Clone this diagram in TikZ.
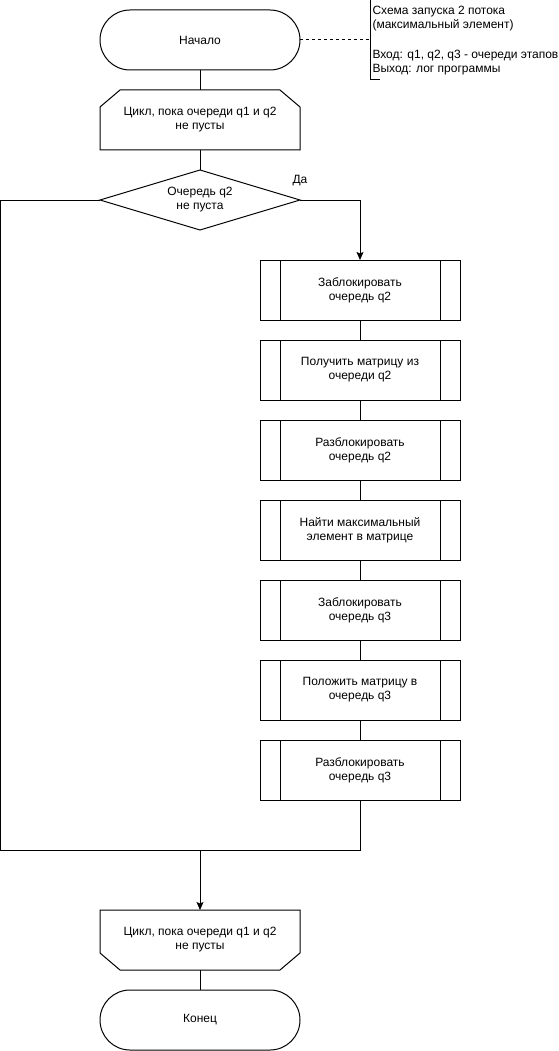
\documentclass[tikz,border=0pt]{standalone}
\usepackage{fontspec}
\setmainfont{Liberation Sans}
\usetikzlibrary{shapes.geometric,shapes.misc,positioning,arrows.meta}
\tikzset{
	base/.style={draw, line width=1pt, align=center, inner sep=0pt, outer sep=0pt,
		font=\fontsize{12}{14}\selectfont},
	terminal/.style={base, rounded rectangle, minimum width=200pt, minimum height=60pt},
	loopbox/.style={base, draw=none, rectangle, minimum width=200pt, minimum height=60pt},
	process/.style={base, rectangle, minimum width=200pt, minimum height=60pt,
		path picture={
			\draw[line width=1pt] ([xshift=20pt]path picture bounding box.north west)--([xshift=20pt]path picture bounding box.south west);
			\draw[line width=1pt] ([xshift=-20pt]path picture bounding box.north east)--([xshift=-20pt]path picture bounding box.south east);
		}},
	decision/.style={base, diamond, aspect=3.333, minimum width=200pt, minimum height=60pt},
}
\begin{document}
\begin{tikzpicture}[x=1pt,y=1pt,line width=1pt,>={Stealth[length=8pt,width=7pt,inset=1.5pt]}]
	\useasboundingbox (0,0) rectangle (558,-1051);
	% main column
	\node[terminal] (start) at (200,-40) {Начало};
	\node[loopbox] (loop1) at (200,-120) {Цикл, пока очереди q1 и q2\\не пусты};
	\draw (loop1.south west)--([yshift=-17pt]loop1.north west)--([xshift=20pt]loop1.north west)
		--([xshift=-20pt]loop1.north east)--([yshift=-17pt]loop1.north east)--(loop1.south east)--cycle;
	\node[decision] (dec) at (200,-200) {Очередь q2\\не пуста};
	% branch with work
	\node[process] (p1) at (360,-290) {Заблокировать\\очередь q2};
	\node[process, below=20pt of p1] (p2) {Получить матрицу из\\очереди q2};
	\node[process, below=20pt of p2] (p3) {Разблокировать\\очередь q2};
	\node[process, below=20pt of p3] (p4) {Найти максимальный\\элемент в матрице};
	\node[process, below=20pt of p4] (p5) {Заблокировать\\очередь q3};
	\node[process, below=20pt of p5] (p6) {Положить матрицу в\\очередь q3};
	\node[process, below=20pt of p6] (p7) {Разблокировать\\очередь q3};
	\node[loopbox] (loop2) at (200,-940) {Цикл, пока очереди q1 и q2\\не пусты};
	\draw (loop2.north west)--([yshift=17pt]loop2.south west)--([xshift=20pt]loop2.south west)
		--([xshift=-20pt]loop2.south east)--([yshift=17pt]loop2.south east)--(loop2.north east)--cycle;
	\node[terminal] (stop) at (200,-1020) {Конец};
	% comment
	\coordinate (ct) at (380,0);
	\coordinate (cm) at (370,-40);
	\coordinate (cb) at (380,-80);
	\draw (ct)--++(-10,0)--++(0,-80)--(cb);
	\draw[dash pattern=on 3pt off 3pt] (start.east)--(cm);
	\node[anchor=north west, align=left, inner sep=0pt, font=\fontsize{12}{14}\selectfont] (note) at (372,-6)
		{Схема запуска 2 потока\\(максимальный элемент)\\[16pt]Вход: q1, q2, q3 - очереди этапов\\Выход: лог программы};
	% connectors
	\draw (start)--(loop1);
	\draw (loop1)--(dec);
	\draw[->] (dec.east)-|(p1.north);
	\node[font=\fontsize{12}{14}\selectfont, inner sep=0pt] (yes) at (300,-181) {Да};
	\foreach \a/\b in {p1/p2,p2/p3,p3/p4,p4/p5,p5/p6,p6/p7}
		\draw (\a)--(\b);
	\coordinate (lb) at (0,-850);
	\coordinate (join) at (200,-850);
	\draw (dec.west)-|(lb)-|(p7.south);
	\draw[->] (join)--(loop2);
	\draw (loop2)--(stop);
\end{tikzpicture}
\end{document}
